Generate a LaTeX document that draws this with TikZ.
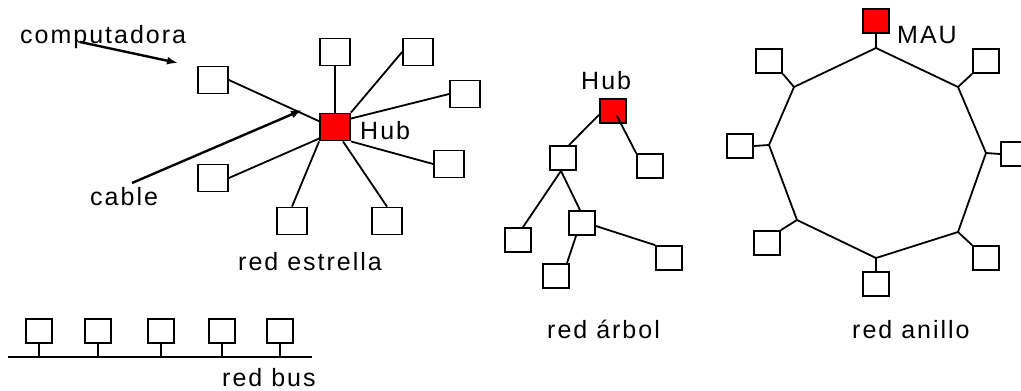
\documentclass[tikz,border=0pt]{standalone}
\usepackage{fontspec}
\setmainfont{Liberation Sans}[LetterSpace=8]
\usetikzlibrary{arrows.meta,calc}
\begin{document}
\begin{tikzpicture}[x=1pt,y=-1pt,
  pcbox/.style={draw,line width=1.8pt,fill=white,minimum width=26pt,minimum height=24pt,inner sep=0pt},
  sbox/.style={pcbox,minimum width=30pt,minimum height=27pt},
  hubbox/.style={fill=red},
  lbl/.style={anchor=base west,inner sep=0pt,font=\fontsize{25}{29}\selectfont},
  wire/.style={line width=1.8pt},
  pointer/.style={line width=2.4pt,-{Latex[length=11pt,width=8pt]}}]
\useasboundingbox (0,0) rectangle (1021,391);

% ---------- star ----------
\node[sbox,hubbox] (sHub) at (335,127) {};
\node[sbox] (sUL) at (213,80) {};
\node[sbox] (sLL) at (213,178) {};
\node[sbox] (sBL) at (292,221) {};
\node[sbox] (sBR) at (387,221) {};
\node[sbox] (sT) at (335,52) {};
\node[sbox] (sTR) at (418,52) {};
\node[sbox] (sR) at (465,94) {};
\node[sbox] (sLR) at (449,164) {};
\draw[wire] (sUL.east) -- (sHub.160);
\draw[wire] (sLL.east) -- (sHub.216);
\draw[wire] (sBL.north) -- (sHub.south west);
\draw[wire] (sBR.north) -- (sHub.299);
\draw[wire] (sHub.south east) -- (sLR.west);
\draw[wire] (sHub.28) -- (sR.west);
\draw[wire] (sHub.north east) -- (sTR.west);
\draw[wire] (sHub.north) -- (sT.south);
\node[lbl] (sHubLbl) at (360,139) {Hub};
\node[lbl] (compLbl) at (20,43) {computadora};
\node[lbl] (cableLbl) at (90,205) {cable};
\node[lbl] (starLbl) at (238,270) {red estrella};
\coordinate (cA1) at (80,42);
\coordinate (cA2) at (178,63);
\coordinate (cB1) at (132,183);
\coordinate (cB2) at (302,110);
\draw[pointer] (cA1) -- (cA2);
\draw[pointer] (cB1) -- (cB2);

% ---------- tree ----------
\node[pcbox,hubbox] (tHub) at (613,111) {};
\node[pcbox] (tA) at (563,158) {};
\node[pcbox] (tB) at (650,166) {};
\node[pcbox] (tC) at (582,223) {};
\node[pcbox] (tD) at (518,240) {};
\node[pcbox] (tE) at (556,276) {};
\node[pcbox] (tF) at (669,258) {};
\draw[wire] (tHub.195) -- ([shift={(6,0)}]tA.north);
\draw[wire] ([shift={(4,5)}]tHub.center) -- (tB.north west);
\draw[wire] ([shift={(-2,0)}]tA.south) -- ([shift={(5,0)}]tD.north);
\draw[wire] ([shift={(-2,0)}]tA.south) -- ([shift={(-2,0)}]tC.north);
\draw[wire] ([shift={(-6,0)}]tC.south) -- ([shift={(11,0)}]tE.north);
\draw[wire] ([shift={(0,3)}]tC.east) -- (tF.north west);
\node[lbl] (tHubLbl) at (581,89) {Hub};
\node[lbl] (treeLbl) at (547,338) {red árbol};

% ---------- ring ----------
\coordinate (v1) at (876,48);
\coordinate (v2) at (958,87);
\coordinate (v3) at (986,153);
\coordinate (v4) at (958,232);
\coordinate (v5) at (876,258);
\coordinate (v6) at (797,220);
\coordinate (v7) at (769,145);
\coordinate (v8) at (794,87);
\draw[wire,line join=round] (v1) -- (v2) -- (v3) -- (v4) -- (v5) -- (v6) -- (v7) -- (v8) -- cycle;
\node[pcbox,hubbox] (rMAU) at (876,21) {};
\node[pcbox] (r2) at (986,61) {};
\node[pcbox] (r3) at (1014,154) {};
\node[pcbox] (r4) at (986,258) {};
\node[pcbox] (r5) at (876,284) {};
\node[pcbox] (r6) at (767,243) {};
\node[pcbox] (r7) at (740,146) {};
\node[pcbox] (r8) at (769,61) {};
\draw[wire] (rMAU.south) -- (v1);
\draw[wire] (r2.south west) -- (v2);
\draw[wire] (v3) -- (r3.west);
\draw[wire] (v4) -- (r4.north west);
\draw[wire] (v5) -- (r5.north);
\draw[wire] (r6.north east) -- (v6);
\draw[wire] (r7.east) -- (v7);
\draw[wire] (r8.south east) -- (v8);
\node[lbl] (mauLbl) at (897,43) {MAU};
\node[lbl] (ringLbl) at (852,338) {red anillo};

% ---------- bus ----------
\coordinate (busL) at (8,357);
\coordinate (busR) at (312,357);
\draw[wire] (busL) -- (busR);
\foreach \i/\x in {1/39,2/98,3/161,4/222,5/280}{
  \node[pcbox] (b\i) at (\x,331) {};
  \draw[wire] (b\i.south) -- (b\i.south |- busL);
}
\node[lbl] (busLbl) at (222,386) {red bus};
\end{tikzpicture}
\end{document}
